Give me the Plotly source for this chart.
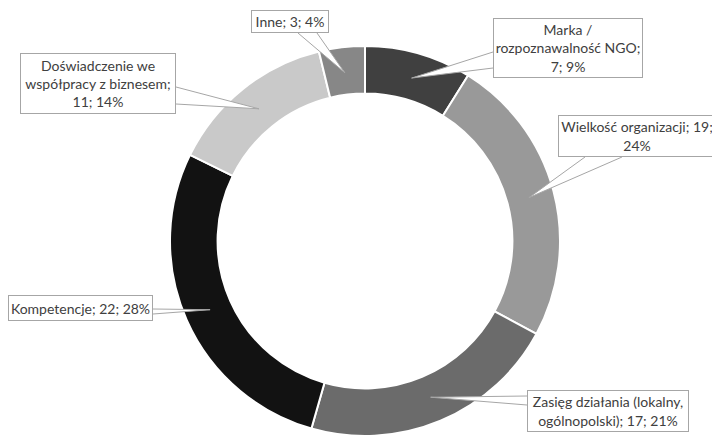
import math
import plotly.graph_objects as go

# ---------------- data ----------------
categories = [
    "Marka / rozpoznawalność NGO",
    "Wielkość organizacji",
    "Zasięg działania (lokalny, ogólnopolski)",
    "Kompetencje",
    "Doświadczenie we współpracy z biznesem",
    "Inne",
]
values = [7, 19, 17, 22, 11, 3]
percents = ["9%", "24%", "21%", "28%", "14%", "4%"]

# ---------------- style / layout ----------------
colors = ["#404040", "#999999", "#6b6b6b", "#121212", "#c9c9c9", "#878787"]
wrap_widths = [20, 25, 26, 30, 22, 20]
W, H = 712, 436
CX, CY, R = 365, 241, 193
HOLE = 0.756
# callout boxes (left, top, right, bottom) in pixels
boxes = [
    (493, 18, 643, 78),
    (558, 115, 716, 157),
    (527, 390, 689, 432),
    (8, 295, 153, 321),
    (20, 53, 176, 114),
    (251, 10, 329, 33),
]
# callout wedge base points in pixels
bases = [
    ((493, 52), (493, 68)),
    ((585, 157), (622, 157)),
    ((527, 396), (527, 405)),
    ((153, 309), (153, 314)),
    ((176, 87), (176, 104)),
    ((298, 33), (317, 33)),
]
FONT = dict(family="Lato, 'Open Sans', sans-serif", size=14, color="#404040")


def wrap(text, width):
    words = text.split(" ")
    lines, cur = [], ""
    for w in words:
        cand = w if not cur else cur + " " + w
        if len(cand) <= width:
            cur = cand
        else:
            lines.append(cur)
            cur = w
    lines.append(cur)
    return "<br>".join(lines)


def px(x):
    return x / W


def py(y):
    return 1 - y / H


RD = R + 2  # pie domain slightly larger to compensate plotly's inner inset
fig = go.Figure(
    go.Pie(
        labels=categories,
        values=values,
        hole=HOLE,
        sort=False,
        direction="clockwise",
        rotation=0,
        marker=dict(colors=colors, line=dict(color="white", width=2)),
        textinfo="none",
        hoverinfo="label+value+percent",
        showlegend=False,
        domain=dict(x=[px(CX - RD), px(CX + RD)], y=[py(CY + RD), py(CY - RD)]),
    )
)

total = sum(values)
shapes = []
annotations = []
cum = 0
rmid = R * (1 + HOLE) / 2
for i, (c, v, p) in enumerate(zip(categories, values, percents)):
    mid = (cum + v / 2) / total * 2 * math.pi
    cum += v
    tx = CX + rmid * math.sin(mid)
    ty = CY - rmid * math.cos(mid)
    (b1x, b1y), (b2x, b2y) = bases[i]
    fill_path = f"M {px(b1x)} {py(b1y)} L {px(tx)} {py(ty)} L {px(b2x)} {py(b2y)} Z"
    line_path = f"M {px(b1x)} {py(b1y)} L {px(tx)} {py(ty)} L {px(b2x)} {py(b2y)}"
    shapes.append(dict(type="path", xref="paper", yref="paper", path=fill_path,
                       fillcolor="white", line=dict(width=0), layer="above"))
    shapes.append(dict(type="path", xref="paper", yref="paper", path=line_path,
                       fillcolor="rgba(0,0,0,0)", line=dict(color="#a6a6a6", width=1),
                       layer="above"))
    l, t, r, b = boxes[i]
    annotations.append(dict(
        x=px(l), y=py(t), xref="paper", yref="paper",
        xanchor="left", yanchor="top",
        text=wrap(f"{c}; {v}; {p}", wrap_widths[i]),
        showarrow=False, align="center", valign="middle",
        width=r - l - 2, height=b - t - 2,
        bgcolor="white", bordercolor="#a6a6a6", borderwidth=1, borderpad=0,
        font=FONT,
    ))

fig.update_layout(
    width=W, height=H,
    margin=dict(l=0, r=0, t=0, b=0),
    paper_bgcolor="white",
    plot_bgcolor="white",
    shapes=shapes,
    annotations=annotations,
    font=FONT,
)

fig.write_html("out.html", config={"displayModeBar": False},
               post_script="document.body.style.margin='0';")
